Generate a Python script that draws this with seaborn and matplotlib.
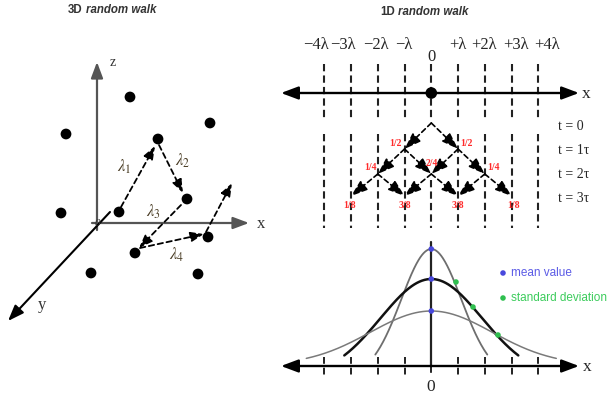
import numpy as np
import pandas as pd
import matplotlib.pyplot as plt
import seaborn as sns

# ---- data (pixel coordinates of the drawing) ----
# 3D random walk
dots3d_x = [66, 130, 158, 210, 61, 119, 187, 208, 135, 91, 198]
dots3d_y = [134, 97, 139, 123, 213, 212, 199, 237, 253, 273, 274]
walk_start = [(121, 207), (159, 145), (181, 205), (140, 248), (206, 232)]
walk_end = [(155, 146), (183, 193), (139, 248), (204, 234), (232, 183)]
walk_labels = [r'$\lambda_1$', r'$\lambda_2$', r'$\lambda_3$', r'$\lambda_4$', '']
walk_label_pos = [(124, 167), (183, 161), (153, 212), (177, 255), (0, 0)]

# 1D lattice
lattice = np.arange(-4, 5)
top_labels = ['\u22124\u03bb', '\u22123\u03bb', '\u22122\u03bb', '\u2212\u03bb', '',
              '+\u03bb', '+2\u03bb', '+3\u03bb', '+4\u03bb']
top_label_x = [316, 343, 376, 404, 431, 458, 484, 516, 547]
time_labels = ['t = 0', 't = 1\u03c4', 't = 2\u03c4', 't = 3\u03c4']
level_y = [123, 149, 174, 196]
time_label_y = [126, 150, 174, 199]

# probability tree: (level, lattice index, label, label dx, label dy)
tree_labels = [(1, -1, '1/2', -9, -6), (1, 1, '1/2', 8, -6),
               (2, -2, '1/4', -7, -6), (2, 0, '2/4', 0, -11), (2, 2, '1/4', 9, -6),
               (3, -3, '1/8', -2, 9), (3, -1, '3/8', 0, 9), (3, 1, '3/8', 0, 9), (3, 3, '1/8', 2, 9)]

# gaussians: narrow, medium, wide
g_names = ['t1', 't2', 't3']
g_peak = [249, 279, 311]
g_base = [377, 378, 365]
g_sigma = [30, 50.6, 61]
g_half = [56, 87, 125]
g_color = ['#6e6e6e', '#111111', '#7a7a7a']
g_lw = [1.3, 1.8, 1.1]
std_x = [456, 473, 498]
std_y = [282, 307, 335]

x0, step = 431.3, 26.75
lx = x0 + step * lattice

sns.set_theme(style='white')
plt.rcParams['font.family'] = ['Liberation Sans', 'DejaVu Sans']
plt.rcParams['mathtext.fontset'] = 'stix'
serif = ['Liberation Serif', 'DejaVu Serif']

fig = plt.figure(figsize=(6.07, 3.96), dpi=100)
ax = fig.add_axes([0, 0, 1, 1])
ax.set_xlim(0, 607)
ax.set_ylim(396, 0)
ax.axis('off')


def arrow(p0, p1, lw=1.5, ls='-', color='black', ms=11, style='-|>,head_length=0.8,head_width=0.3'):
    ax.annotate('', xy=p1, xytext=p0,
                arrowprops=dict(arrowstyle=style, lw=lw, ls=ls, color=color,
                                mutation_scale=ms, shrinkA=0, shrinkB=0))


# ---- titles ----
for tx, ty, lead in [(68, 10, '3D'), (380, 12, '1D')]:
    t1 = ax.text(tx, ty, lead, fontsize=8.3, fontweight='bold', color='#333333', va='center')
    ax.annotate('random walk', xy=(1, 0.5), xycoords=t1, xytext=(2.5, 0), textcoords='offset points',
                fontsize=8.3, fontweight='bold', fontstyle='italic', color='#333333', va='center')

# ---- 3D random walk ----
arrow((97, 230), (97, 62), lw=1.6, color='#555555', ms=12)
arrow((92, 223), (249, 223), lw=1.6, color='#555555', ms=12)
arrow((110, 212), (8, 321), lw=1.5, color='black', ms=12)
ax.text(113, 62, 'z', fontsize=10, family=serif, va='center', ha='center', color='#333333')
ax.text(261, 224, 'x', fontsize=12, family=serif, va='center', ha='center', color='#333333')
ax.text(42, 305, 'y', fontsize=12, family=serif, va='center', ha='center', color='#333333')
ax.text(97, 223, '0', fontsize=8, family=serif, style='italic', va='center', ha='center', color='#333333')

for p0, p1 in zip(walk_start, walk_end):
    arrow(p0, p1, lw=1.3, ls=(0, (3, 2)), ms=10)
for lab, pos in zip(walk_labels, walk_label_pos):
    if lab:
        ax.text(pos[0], pos[1], lab, fontsize=12, va='center', ha='center', color='#4a3d25')

sns.scatterplot(x=dots3d_x, y=dots3d_y, s=60, color='black', edgecolor='none', ax=ax, zorder=5)

# ---- 1D lattice (top) ----
arrow((431, 93), (579, 93), lw=1.7, ms=13)
arrow((431, 93), (281, 93), lw=1.7, ms=13)
ax.text(582, 94, 'x', fontsize=12.5, family=serif, va='center')
for x in lx:
    ax.plot([x, x], [64, 120], ls=(0, (3.5, 2)), lw=1.5, color='#222222')
    if x != x0:
        ax.plot([x, x], [134, 228], ls=(0, (3.5, 2)), lw=1.5, color='#222222')
    else:
        ax.plot([x, x], [180, 228], ls=(0, (3.5, 2)), lw=1.5, color='#222222')
for lab, x in zip(top_labels, top_label_x):
    if lab:
        ax.text(x, 45, lab, fontsize=12, family=serif, va='center', ha='center')
ax.text(431, 57, '0', fontsize=12, family=serif, va='center', ha='center')
sns.scatterplot(x=[x0], y=[93], s=70, color='black', edgecolor='none', ax=ax, zorder=5)

for lab, y in zip(time_labels, time_label_y):
    ax.text(558, y, lab, fontsize=10, family=serif, va='center')

# tree arrows
for k in range(3):
    parents = np.arange(-k, k + 1, 2)
    for p in parents:
        for c in (p - 1, p + 1):
            arrow((x0 + step * p, level_y[k]), (x0 + step * c, level_y[k + 1]),
                  lw=1.2, ls=(0, (3, 2)), ms=10, style='-|>,head_length=1.0,head_width=0.35')
for lev, idx, lab, dx, dy in tree_labels:
    ax.text(x0 + step * idx + dx, level_y[lev] + dy, lab, fontsize=7, family=serif,
            fontweight='bold', color='#ff2a2a', va='center', ha='center')

# ---- gaussians (bottom) ----
arrow((431, 366), (579, 366), lw=1.7, ms=13)
arrow((431, 366), (281, 366), lw=1.7, ms=13)
ax.text(583, 367, 'x', fontsize=12.5, family=serif, va='center')
ax.text(431, 387, '0', fontsize=12.5, family=serif, va='center', ha='center')
for x in lx:
    if x != x0:
        ax.plot([x, x], [357, 376], ls=(0, (3.5, 2)), lw=1.4, color='#222222')
    else:
        ax.plot([x, x], [366, 376], ls=(0, (3.5, 2)), lw=1.4, color='#222222')
ax.plot([x0, x0], [242, 366], lw=1.6, color='#222222')

rows = []
for name, pk, bs, sg, hf in zip(g_names, g_peak, g_base, g_sigma, g_half):
    xs = np.linspace(-hf, hf, 200)
    ys = bs - (bs - pk) * np.exp(-xs ** 2 / (2 * sg ** 2))
    rows.append(pd.DataFrame({'x': x0 + xs, 'y': ys, 'curve': name}))
curves = pd.concat(rows)
for name, col, lw in zip(g_names, g_color, g_lw):
    sns.lineplot(data=curves[curves['curve'] == name], x='x', y='y', color=col, lw=lw,
                 estimator=None, sort=False, ax=ax)

sns.scatterplot(x=[x0] * 3, y=g_peak, s=16, color='#4848dd', edgecolor='none', ax=ax, zorder=6)
sns.scatterplot(x=std_x, y=std_y, s=16, color='#2fbf4f', edgecolor='none', ax=ax, zorder=6)

# legend
sns.scatterplot(x=[503], y=[273], s=16, color='#4848dd', edgecolor='none', ax=ax)
sns.scatterplot(x=[503], y=[298], s=16, color='#2fbf4f', edgecolor='none', ax=ax)
ax.text(511, 273, 'mean value', fontsize=8.5, color='#5b5be6', va='center')
ax.text(511, 298, 'standard deviation', fontsize=8.5, color='#3ccc5c', va='center')

ax.set_xlim(0, 607)
ax.set_ylim(396, 0)
fig.savefig('out.png', dpi=100)
